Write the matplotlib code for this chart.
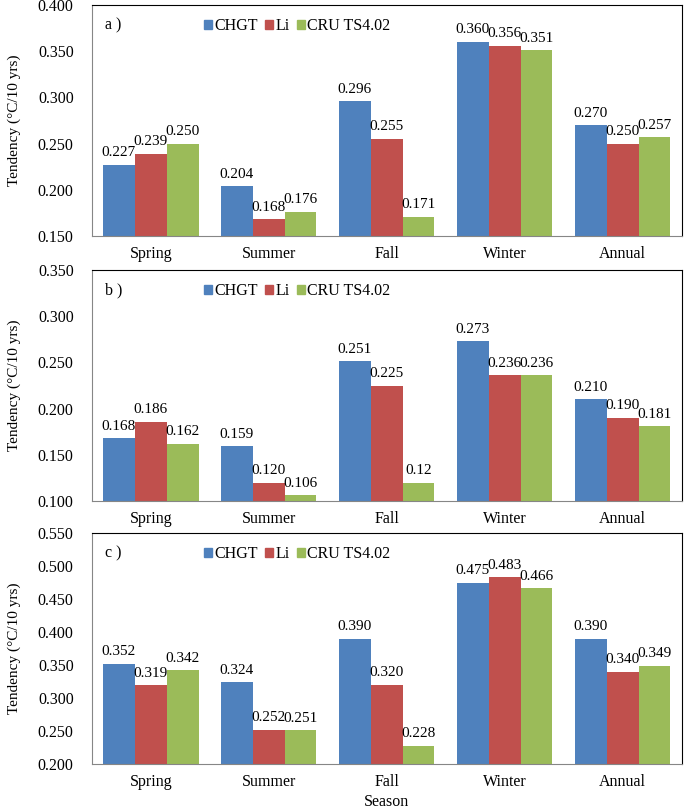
import numpy as np
import matplotlib.pyplot as plt
from matplotlib.patches import Patch

plt.rcParams['font.family'] = ['Liberation Serif', 'DejaVu Serif']

seasons = ['Spring', 'Summer', 'Fall', 'Winter', 'Annual']
series = ['CHGT', 'Li', 'CRU TS4.02']
colors = ['#4F81BD', '#C0504D', '#9BBB59']

# panel a
a_chgt = [0.227, 0.204, 0.296, 0.360, 0.270]
a_li = [0.239, 0.168, 0.255, 0.356, 0.250]
a_cru = [0.250, 0.176, 0.171, 0.351, 0.257]
# panel b
b_chgt = [0.168, 0.159, 0.251, 0.273, 0.210]
b_li = [0.186, 0.120, 0.225, 0.236, 0.190]
b_cru = [0.162, 0.106, 0.12, 0.236, 0.181]
b_cru_txt = ['0.162', '0.106', '0.12', '0.236', '0.181']
# panel c
c_chgt = [0.352, 0.324, 0.390, 0.475, 0.390]
c_li = [0.319, 0.252, 0.320, 0.483, 0.340]
c_cru = [0.342, 0.251, 0.228, 0.466, 0.349]

panels = [
    ('a )', [a_chgt, a_li, a_cru], None, (0.150, 0.400)),
    ('b )', [b_chgt, b_li, b_cru], b_cru_txt, (0.100, 0.350)),
    ('c )', [c_chgt, c_li, c_cru], None, (0.200, 0.550)),
]

fig = plt.figure(figsize=(6.85, 8.09), dpi=100)
H = 809.0
boxes = [(0.134, 1 - 236 / H, 0.861, 231 / H),
         (0.134, 1 - 501 / H, 0.861, 231 / H),
         (0.134, 1 - 764 / H, 0.861, 231 / H)]

x = np.arange(len(seasons))
w = 0.27
for (tag, data, cru_txt, lim), box in zip(panels, boxes):
    ax = fig.add_axes(box)
    for k, vals in enumerate(data):
        pos = x + (k - 1) * w
        ax.bar(pos, vals, w, color=colors[k], zorder=2)
        for i, v in enumerate(vals):
            if k == 2 and cru_txt is not None:
                s = cru_txt[i]
            else:
                s = '%.3f' % v
            ax.annotate(s, (pos[i], v), xytext=(0, 4), textcoords='offset points',
                        ha='center', va='bottom', fontsize=11)
    ax.set_xlim(-0.5, len(seasons) - 0.5)
    ax.set_ylim(*lim)
    ax.set_yticks(np.arange(lim[0], lim[1] + 0.001, 0.05))
    ax.yaxis.set_major_formatter(plt.FormatStrFormatter('%.3f'))
    ax.set_xticks(x)
    ax.set_xticklabels(seasons)
    ax.tick_params(length=0, labelsize=11.5)
    ax.tick_params(axis='x', pad=7)
    ax.tick_params(axis='y', pad=13)
    ax.spines['left'].set_color('#868686')
    ax.spines['bottom'].set_color('#868686')
    ax.spines['top'].set_color('black')
    ax.spines['right'].set_color('black')
    ax.set_ylabel('Tendency (°C/10 yrs)', fontsize=11, labelpad=12)
    ax.text(0.022, 0.91, tag, transform=ax.transAxes, fontsize=11.5, va='center')
    handles = [Patch(color=c) for c in colors]
    ax.legend(handles, series, ncol=3, frameon=False, loc='center left',
              bbox_to_anchor=(0.19, 0.91), fontsize=11.5, handlelength=0.5,
              handleheight=0.5, handletextpad=0.15, columnspacing=0.45,
              borderaxespad=0, borderpad=0)

fig.text(0.134 + 0.861 / 2, 1 - 802 / H, 'Season', ha='center', va='center',
         fontsize=11.5)

fig.savefig('out.png', dpi=100)
